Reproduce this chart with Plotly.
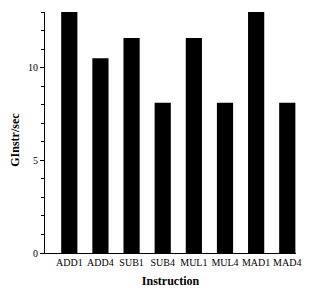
import plotly.graph_objects as go

categories = ["ADD1", "ADD4", "SUB1", "SUB4", "MUL1", "MUL4", "MAD1", "MAD4"]
values = [13.5, 10.5, 11.6, 8.1, 11.6, 8.1, 13.5, 8.1]
y_ticks = [0, 5, 10]

fig = go.Figure()
fig.add_trace(go.Bar(x=categories, y=values, marker=dict(color="black", line=dict(width=0)), width=0.52))

fig.update_layout(
    width=320, height=296,
    margin=dict(l=45, r=24, t=12, b=43),
    plot_bgcolor="white", paper_bgcolor="white",
    font=dict(family="Liberation Serif", size=10, color="black"),
    showlegend=False,
)
fig.update_xaxes(
    range=[-0.78, 7.28], showline=True, linecolor="black", linewidth=1,
    ticks="", showgrid=False,
    title=dict(text="<b>Instruction</b>", font=dict(size=12), standoff=9),
)
fig.update_yaxes(
    range=[0, 13], showline=True, linecolor="black", linewidth=1,
    tickvals=y_ticks, ticks="outside", ticklen=4, tickcolor="black",
    minor=dict(dtick=1, ticks="outside", ticklen=3, tickcolor="black"),
    showgrid=False, zeroline=False,
)
fig.add_annotation(
    text="<b>GInstr/sec</b>", textangle=-90, xref="paper", yref="paper",
    x=-30 / 251, y=0.47, xanchor="center", yanchor="middle",
    showarrow=False, font=dict(size=12),
)
fig.write_html("out.html")
